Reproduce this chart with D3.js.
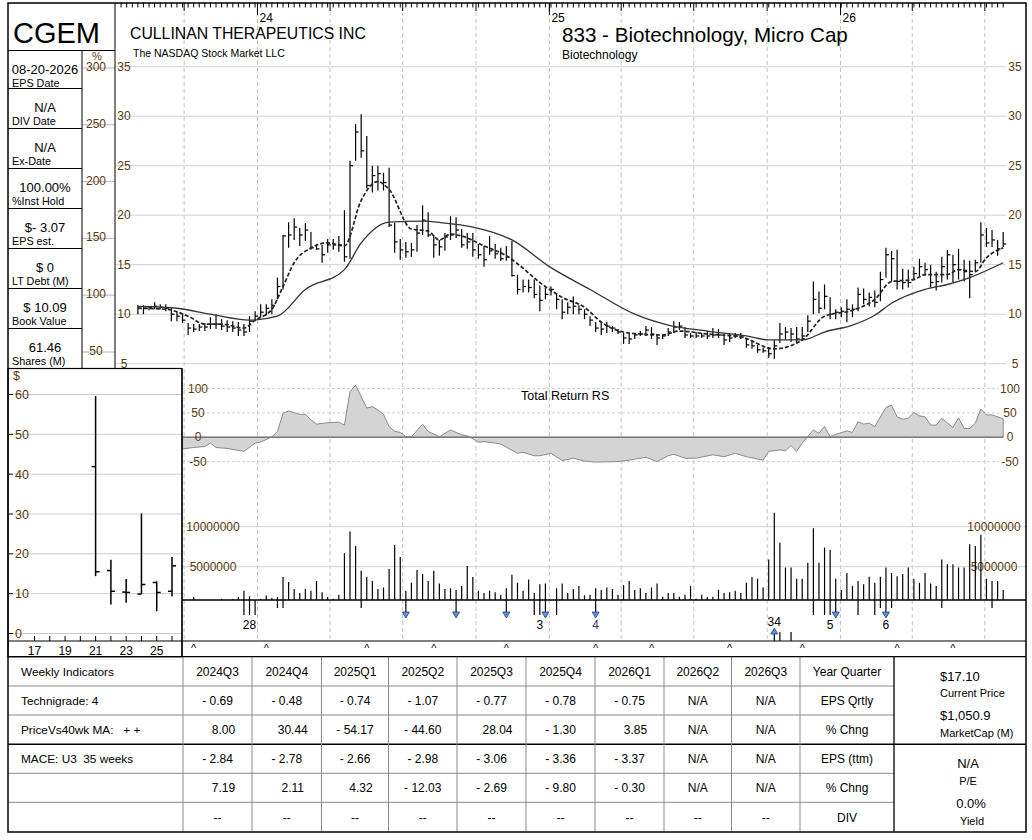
<!DOCTYPE html>
<html lang="en">
<head>
  <meta charset="UTF-8">
  <title>CGEM - Weekly Chart</title>
  <script src="https://d3js.org/d3.v7.min.js"></script>
  <style>
    body { margin: 0; background: #fff; }
    svg text { font-family: "Liberation Sans", Arial, sans-serif; }
  </style>
</head>
<body>
  <svg width="1032" height="840"></svg>
  <script>
    // ---- weekly price bars (first bar = week of 2023-08-04) ----
    const firstWeek = new Date(2023, 7, 4);
    const highs = [10.9,10.9,10.8,11.2,11.0,11.0,10.7,10.3,10.0,9.1, 9.0,9.0,9.1,9.7,10.0,9.5,9.4,9.3,9.2,9.0,
      9.8,10.3,11.0,11.0,11.5,13.7,18.0,19.3,19.7,18.7, 19.2,18.3,17.1,17.0,17.6,17.6,17.9,20.5,25.5,29.2,
      30.2,28.0,25.0,25.0,24.3,24.8,19.2,17.6,17.3,17.2, 19.0,21.0,20.3,18.0,17.5,18.2,19.9,19.8,
      18.6,18.2,18.2,17.1,16.9,17.9,17.1,16.7,16.9,17.4, 14.0,13.5,13.5,13.5,12.9,12.7,12.8,12.0,11.5,11.2,
      11.8,10.9,10.5,9.8,9.2,9.2,9.2,8.8,8.5,8.1, 8.0,8.1,8.3,8.8,8.7,8.0,8.0,8.6,9.3,9.2,
      8.7,8.1,8.2,8.1,8.3,8.6,8.5,8.0,8.0,8.1, 8.1,7.6,7.3,6.9,6.6,6.6,7.4,9.1,8.7,
      8.6,8.7,8.7,9.9,13.3,12.3,13.0,11.7,10.5,10.7, 11.5,11.0,12.7,12.6,12.2,12.4,14.3,16.7,16.4,16.5,
      14.6,14.5,14.8,15.6,15.2,15.0,14.3,15.8,16.5,16.0, 16.6,15.5,15.4,15.5,19.3,18.7,18.5,17.5,18.3];
    const lows = [10.0,10.0,10.4,10.5,10.5,10.3,9.3,9.3,9.1,7.9, 8.2,8.3,8.3,8.5,8.5,8.4,8.2,8.2,7.8,7.8,
      8.2,9.3,9.7,9.9,10.0,11.5,12.5,16.7,17.5,16.9, 17.4,16.5,16.5,15.2,16.2,16.5,16.3,15.3,15.6,25.5,
      25.8,22.7,22.3,22.5,22.5,18.8,16.2,15.5,15.7,15.8, 16.3,18.0,17.8,15.7,15.9,16.4,17.5,17.7,
      16.7,16.6,15.8,15.6,14.8,16.0,15.6,15.4,15.4,13.8, 12.0,12.2,12.2,11.6,10.3,11.5,11.9,10.5,9.5,10.0,
      10.0,10.0,9.5,8.8,8.2,7.9,8.1,8.2,8.0,7.0, 7.0,7.5,7.8,7.8,7.5,6.9,7.5,7.8,8.1,8.4,
      7.6,7.6,7.6,7.6,7.5,7.6,7.6,6.9,7.2,7.6, 7.5,6.6,6.5,6.1,6.1,5.6,5.5,7.1,7.4,
      7.2,7.1,7.4,8.2,10.0,10.1,10.5,9.5,9.5,9.7, 9.2,9.7,10.3,11.0,10.8,10.7,11.3,13.7,13.3,12.5,
      12.5,12.7,13.5,13.8,13.9,12.7,12.4,13.2,13.5,13.2, 13.5,13.3,11.6,14.3,15.2,16.8,16.8,15.9,16.8];
    const closes = [10.6,10.6,10.7,10.8,10.7,10.6,10.0,9.8,9.4,8.6, 8.5,8.7,8.7,9.0,9.0,8.8,8.7,8.6,8.4,8.2,
      9.3,9.8,10.2,10.6,10.9,12.8,17.9,18.0,18.8,18.0, 18.5,16.7,16.6,16.0,17.0,17.0,17.0,15.8,25.0,28.4,
      26.5,23.0,24.0,24.2,23.3,19.0,17.3,16.5,16.3,16.5, 18.2,19.5,18.0,17.0,16.8,17.8,18.0,18.5,
      17.0,17.3,16.5,16.0,15.5,16.4,16.1,15.6,15.8,13.9, 12.5,12.8,12.7,12.0,11.4,12.0,12.5,11.5,10.2,10.7,
      10.8,10.5,10.0,9.4,8.6,8.5,8.8,8.6,8.2,7.6, 7.5,7.9,8.0,8.4,8.0,7.6,7.8,8.2,8.7,8.8,
      7.9,7.8,7.8,7.8,7.8,7.9,7.9,7.4,7.6,7.8, 7.7,6.9,6.8,6.4,6.3,6.0,6.8,8.0,8.2,
      8.0,7.5,7.8,9.3,11.5,10.6,11.8,10.0,10.2,10.3, 10.5,10.5,12.0,11.5,11.7,11.2,13.5,16.0,15.6,13.3,
      13.2,13.2,14.1,14.8,14.5,13.2,13.3,14.8,16.0,15.0, 14.5,14.3,14.0,15.2,18.0,17.2,17.5,16.6,17.1];

    // moving averages: [week, price]
    const ma10 = [[0,10.6],[5,10.5],[9,9.8],[12,9.0],[15,9.0],[19,8.6],[21,9.4],[24,10.5],[26,12.8],[28,15.2],
      [31,16.7],[34,17.2],[37,16.9],[40,21.5],[43,23.4],[45,22.6],[49,18.6],[52,18.4],[54,17.5],[56,18.1],
      [58,17.9],[62,16.9],[66,15.9],[68,15.1],[72,13.2],[76,11.7],[80,10.7],[83,9.2],[88,8.1],[94,7.9],
      [97,8.3],[102,8.0],[108,7.7],[114,6.5],[119,7.4],[123,9.8],[128,10.4],[132,11.5],[135,13.3],[139,13.5],
      [141,14.0],[145,14.0],[147,14.5],[150,14.3],[152,15.7],[155,16.7]];
    const ma40 = [[0,10.8],[7,10.6],[13,10.0],[20,9.4],[25,9.8],[30,12.5],[37,14.5],[40,17.2],[45,19.3],[51,19.4],
      [55,19.2],[58,19.0],[60,18.8],[67,17.5],[74,14.7],[81,12.5],[89,10.0],[95,8.9],[102,8.3],[109,7.8],
      [113,7.4],[119,7.4],[123,8.2],[128,8.9],[132,9.9],[135,11.1],[141,12.5],[145,13.0],[149,13.7],[155,15.2]];

    // Total Return RS: [week, value]
    const rsPoints = [[8,-24],[10,-21],[12,-19],[13,-12],[14,-21],[16,-23],[19,-29],[21,-12],[22,-10],[24,1],
      [25,12],[26,49],[27,54],[29,47],[30,47],[31,36],[32,27],[34,30],[36,31],[37,25],[38,94],[39,107],[41,60],
      [42,63],[43,56],[44,47],[45,22],[46,12],[47,10],[48,1],[49,1],[51,27],[52,12],[54,1],[56,15],[58,5],[59,3],
      [60,-3],[61,-10],[62,-9],[64,-12],[65,-14],[68,-33],[69,-31],[71,-38],[72,-38],[74,-33],[76,-48],[78,-43],
      [80,-49],[82,-51],[86,-50],[88,-47],[91,-41],[93,-50],[95,-38],[96,-35],[98,-43],[100,-43],[103,-36],
      [105,-40],[107,-33],[109,-40],[112,-47],[113,-29],[115,-26],[116,-28],[117,-17],[118,-29],[119,-12],
      [121,15],[122,8],[123,22],[124,1],[125,6],[127,13],[128,10],[129,32],[130,27],[131,29],[132,22],[133,42],
      [134,61],[135,66],[136,42],[137,37],[138,39],[139,51],[140,44],[141,42],[142,25],[143,25],[144,39],
      [146,20],[147,40],[148,18],[149,18],[150,29],[151,58],[152,46],[153,46],[154,42],[155,38]];

    // weekly volume in millions, starting at week 10
    const volumeFirstWeek = 10;
    const volumes = [1.2,0.8,0.8,0.8,0.8,1.0,0.8,0.96,1.2,2.0, 1.3,0.8,0.96,1.4,1.1,1.2,3.7,3.1,2.2,1.7,
      2.2,2.0,3.2,1.8,1.2,1.0,1.5,6.7,9.4,7.6, 4.5,3.7,3.2,2.2,2.4,4.7,7.7,6.2,2.0,3.0,
      4.6,4.1,3.2,4.5,2.9,2.2,2.3,2.1,2.6,5.1, 3.7,2.0,1.7,2.0,1.8,1.5,2.3,4.0,3.0,2.0,
      3.4,1.7,2.8,2.9,0.8,2.3,2.9,1.7,2.2,2.6, 1.4,1.5,2.3,2.1,2.4,
      2.2,1.5,2.7,3.2,2.1,2.3,1.7,2.4,2.9, 1.25,1.7,1.7,1.25,1.5,2.6,1.0,1.5,1.2,1.25,
      2.1,1.7,1.8,2.0,1.7,3.0,3.7,3.5,2.4,5.9, 11.75,8.0,4.9,4.9,3.5,3.5,5.5,9.8,5.5,7.4,
      7.1,3.5,2.1,4.2,2.6,3.2,2.8,3.75,3.0,3.75, 4.9,4.2,3.8,4.1,4.9,3.5,3.0,4.2,2.9,2.6,
      5.9,5.3,5.3,4.9,4.9,7.8,7.6,9.0,3.5,3.2, 3.2,2.1];

    // markers below the volume baseline (week numbers)
    const dipLongWeeks = [19,20,21,71,72,75,121,123,124,129,132];
    const dipShortWeeks = [25,26,40,133,135,144,153];
    const downArrowWeeks = [48,57,66,73,82,125,134];
    const upArrowWeeks = [114];
    const riseWeeks = [115,117];
    const eventWeeks = [20,72,82,114,124,134];
    const eventTexts = ["28","3","4","34","5","6"];
    const caretWeeks = [10,23,41,53,66,82,92,106,119,136,146];

    // axis ticks
    const priceTicks = [5,10,15,20,25,30,35];
    const pctTicks = [50,100,150,200,250,300];
    const rsTicks = [-50,0,50,100];
    const volTicks = [5,10];

    // yearly inset
    const insetYears = [2021,2022,2023,2024,2025,2026];
    const insetOpen = [41.9,15.8,10.4,9.9,12.8,10.6];
    const insetHigh = [59.6,18.5,13.7,30.1,13.1,19.2];
    const insetLow = [14.4,7.3,7.7,9.9,5.6,9.3];
    const insetClose = [15.5,10.6,10.3,12.3,10.3,17.0];
    const insetTicks = [0,10,20,30,40,50,60];

    // stock facts
    const statValues = ["08-20-2026","N/A","N/A","100.00%","$- 3.07","$ 0","$ 10.09","61.46"];
    const statLabels = ["EPS Date","DIV Date","Ex-Date","%Inst Hold","EPS est.","LT Debt (M)","Book Value","Shares (M)"];

    // bottom table
    const quarterNames = ["2024Q3","2024Q4","2025Q1","2025Q2","2025Q3","2025Q4","2026Q1","2026Q2","2026Q3"];
    const epsQuarterly = [-0.69,-0.48,-0.74,-1.07,-0.77,-0.78,-0.75,null,null];
    const epsQuarterlyChg = [8.00,30.44,-54.17,-44.60,28.04,-1.30,3.85,null,null];
    const epsTtm = [-2.84,-2.78,-2.66,-2.98,-3.06,-3.36,-3.37,null,null];
    const epsTtmChg = [7.19,2.11,4.32,-12.03,-2.69,-9.80,-0.30,null,null];
    const dividends = [null,null,null,null,null,null,null,null,null];
    const indicatorNames = ["Weekly Indicators","Technigrade: 4","PriceVs40wk MA:   + +","MACE: U3  35 weeks","",""];
    const rowNames = ["Year Quarter","EPS Qrtly","% Chng","EPS (ttm)","% Chng","DIV"];

    // ---------------------------------------------------------------
    const svg = d3.select("svg");
    const axisColor = "#5a3b0b";

    const x = d3.scaleTime()
      .domain([new Date(2024, 0, 1), new Date(2026, 0, 1)])
      .range([257.5, 840.5]);
    const weekDate = i => d3.timeDay.offset(firstWeek, 7 * i);
    const wx = i => x(weekDate(i));

    const yPrice = d3.scaleLinear().domain([5, 35]).range([363.7, 66.7]);
    const yPct = d3.scaleLinear().domain([50, 300]).range([352, 68]);
    const yRS = d3.scaleLinear().domain([-50, 100]).range([461.6, 388.6]);
    const yVol = d3.scaleLinear().domain([0, 10]).range([606.7, 526.7]);
    const volBase = 600;

    svg.append("rect").attr("width", 1032).attr("height", 840).attr("fill", "#fff");

    // quarter gridlines
    const quarterStarts = d3.timeMonth.every(3).range(new Date(2023, 9, 1), new Date(2026, 7, 1));
    svg.append("g").selectAll("line").data(quarterStarts).join("line")
      .attr("x1", d => x(d)).attr("x2", d => x(d))
      .attr("y1", 12).attr("y2", 641)
      .attr("stroke", "#c4c4c4").attr("stroke-dasharray", "4,3");

    // top week ruler
    const ruler = svg.append("g").attr("stroke", "#000");
    ruler.selectAll(".wk").data(d3.range(-3, 156)).join("line")
      .attr("x1", d => wx(d)).attr("x2", d => wx(d)).attr("y1", 3).attr("y2", 7.5);
    ruler.selectAll(".qt").data(quarterStarts).join("line")
      .attr("x1", d => x(d)).attr("x2", d => x(d)).attr("y1", 3).attr("y2", 11);
    const yearStarts = d3.timeYear.range(new Date(2024, 0, 1), new Date(2026, 6, 1));
    ruler.selectAll(".yr").data(yearStarts).join("line")
      .attr("x1", d => x(d)).attr("x2", d => x(d)).attr("y1", 3).attr("y2", 15);
    svg.append("g").selectAll("text").data(yearStarts).join("text")
      .attr("x", d => x(d) + 2).attr("y", 22).attr("font-size", 12)
      .text(d => d3.timeFormat("%y")(d));

    // price grid + labels
    const gPrice = svg.append("g");
    gPrice.selectAll("line").data(priceTicks).join("line")
      .attr("x1", 115).attr("x2", 1006)
      .attr("y1", d => yPrice(d)).attr("y2", d => yPrice(d))
      .attr("stroke", "#d2d2d2");
    gPrice.selectAll(".pl").data(priceTicks).join("text")
      .attr("x", 124).attr("y", d => yPrice(d) + 4).attr("text-anchor", "middle")
      .attr("font-size", 12).attr("fill", axisColor).text(d => d);
    gPrice.selectAll(".pr").data(priceTicks).join("text")
      .attr("x", 1015).attr("y", d => yPrice(d) + 4).attr("text-anchor", "middle")
      .attr("font-size", 12).attr("fill", axisColor).text(d => d);

    // percent column
    const gPct = svg.append("g");
    gPct.selectAll("line").data(pctTicks).join("line")
      .attr("x1", 82).attr("x2", 115)
      .attr("y1", d => yPct(d)).attr("y2", d => yPct(d))
      .attr("stroke", "#b8b8b8");
    gPct.selectAll("text").data(pctTicks).join("text")
      .attr("x", 96).attr("y", d => yPct(d) + 3).attr("text-anchor", "middle")
      .attr("font-size", 12).attr("fill", axisColor).text(d => d);
    svg.append("text").attr("x", 97).attr("y", 60).attr("text-anchor", "middle")
      .attr("font-size", 11).attr("fill", axisColor).text("%");

    // titles
    svg.append("text").attr("x", 130).attr("y", 39).attr("font-size", 15.8).text("CULLINAN THERAPEUTICS INC");
    svg.append("text").attr("x", 133).attr("y", 57).attr("font-size", 10.5).text("The NASDAQ Stock Market LLC");
    svg.append("text").attr("x", 562).attr("y", 42).attr("font-size", 20.6).text("833 - Biotechnology, Micro Cap");
    svg.append("text").attr("x", 562).attr("y", 59).attr("font-size", 12).text("Biotechnology");

    // price bars
    const bars = svg.append("g").attr("stroke", "#000").attr("stroke-width", 1.2);
    bars.selectAll(".hl").data(highs).join("line")
      .attr("x1", (d, i) => wx(i)).attr("x2", (d, i) => wx(i))
      .attr("y1", d => yPrice(d)).attr("y2", (d, i) => yPrice(lows[i]));
    bars.selectAll(".cl").data(closes).join("line")
      .attr("x1", (d, i) => wx(i)).attr("x2", (d, i) => wx(i) + 3)
      .attr("y1", d => yPrice(d)).attr("y2", d => yPrice(d));

    // moving averages
    const maLine = d3.line().x(d => wx(d[0])).y(d => yPrice(d[1])).curve(d3.curveMonotoneX);
    svg.append("path").attr("d", maLine(ma40)).attr("fill", "none")
      .attr("stroke", "#333").attr("stroke-width", 1.3);
    svg.append("path").attr("d", maLine(ma10)).attr("fill", "none")
      .attr("stroke", "#222").attr("stroke-width", 1.7).attr("stroke-dasharray", "4,2");

    // RS panel
    const gRS = svg.append("g");
    gRS.selectAll("line").data(rsTicks.filter(d => d !== 0)).join("line")
      .attr("x1", 182).attr("x2", 999)
      .attr("y1", d => yRS(d)).attr("y2", d => yRS(d))
      .attr("stroke", "#cfcfcf").attr("stroke-dasharray", "3,2");
    const rsArea = d3.area().x(d => wx(d[0])).y0(yRS(0)).y1(d => yRS(d[1]));
    gRS.append("path").attr("d", rsArea(rsPoints))
      .attr("fill", "#d4d4d4").attr("stroke", "#8a8a8a").attr("stroke-width", 1);
    gRS.append("line").attr("x1", 182).attr("x2", wx(155))
      .attr("y1", yRS(0)).attr("y2", yRS(0)).attr("stroke", "#7a7a7a").attr("stroke-width", 1.5);
    gRS.selectAll(".rl").data(rsTicks).join("text")
      .attr("x", 198).attr("y", d => yRS(d) + 4).attr("text-anchor", "middle")
      .attr("font-size", 12).attr("fill", axisColor).text(d => d);
    gRS.selectAll(".rr").data(rsTicks).join("text")
      .attr("x", 1010).attr("y", d => yRS(d) + 4).attr("text-anchor", "middle")
      .attr("font-size", 12).attr("fill", axisColor).text(d => d);
    gRS.append("text").attr("x", 521).attr("y", 400).attr("font-size", 12.5).text("Total Return RS");

    // volume panel
    const gVol = svg.append("g");
    gVol.selectAll("line").data(volTicks).join("line")
      .attr("x1", 182).attr("x2", 1026)
      .attr("y1", d => yVol(d)).attr("y2", d => yVol(d))
      .attr("stroke", "#d2d2d2");
    gVol.selectAll(".vl").data(volTicks).join("text")
      .attr("x", 213).attr("y", d => yVol(d) + 4).attr("text-anchor", "middle")
      .attr("font-size", 12).attr("fill", axisColor).text(d => d * 1000000);
    gVol.selectAll(".vr").data(volTicks).join("text")
      .attr("x", 994).attr("y", d => yVol(d) + 4).attr("text-anchor", "middle")
      .attr("font-size", 12).attr("fill", axisColor).text(d => d * 1000000);
    gVol.append("g").attr("stroke", "#000").attr("stroke-width", 1.2)
      .selectAll("line").data(volumes.map((v, k) => [volumeFirstWeek + k, v]).filter(d => yVol(d[1]) < volBase))
      .join("line")
      .attr("x1", d => wx(d[0])).attr("x2", d => wx(d[0]))
      .attr("y1", volBase).attr("y2", d => yVol(d[1]));

    // markers under the baseline
    const gMk = svg.append("g").attr("stroke", "#000").attr("stroke-width", 1.2);
    gMk.selectAll(".dl").data(dipLongWeeks).join("line")
      .attr("x1", d => wx(d)).attr("x2", d => wx(d)).attr("y1", volBase).attr("y2", 615);
    gMk.selectAll(".ds").data(dipShortWeeks).join("line")
      .attr("x1", d => wx(d)).attr("x2", d => wx(d)).attr("y1", volBase).attr("y2", 608);
    gMk.selectAll(".da").data(downArrowWeeks).join("line")
      .attr("x1", d => wx(d)).attr("x2", d => wx(d)).attr("y1", volBase).attr("y2", 613);
    gMk.selectAll(".rs").data(riseWeeks).join("line")
      .attr("x1", d => wx(d)).attr("x2", d => wx(d)).attr("y1", 641).attr("y2", 632);
    gMk.selectAll(".ua").data(upArrowWeeks).join("line")
      .attr("x1", d => wx(d)).attr("x2", d => wx(d)).attr("y1", 641).attr("y2", 633);
    svg.append("g").selectAll("path").data(downArrowWeeks).join("path")
      .attr("d", d => `M${wx(d) - 3.5},${612} L${wx(d) + 3.5},${612} L${wx(d)},${618} Z`)
      .attr("fill", "#5f8fd6").attr("stroke", "#1f3f7a").attr("stroke-width", 0.8);
    svg.append("g").selectAll("path").data(upArrowWeeks).join("path")
      .attr("d", d => `M${wx(d) - 3.5},${634} L${wx(d) + 3.5},${634} L${wx(d)},${628} Z`)
      .attr("fill", "#5f8fd6").attr("stroke", "#1f3f7a").attr("stroke-width", 0.8);
    svg.append("g").selectAll("text").data(eventWeeks).join("text")
      .attr("x", d => wx(d)).attr("y", (d, i) => eventTexts[i] === "34" ? 626 : 628.5)
      .attr("text-anchor", "middle").attr("font-size", 12)
      .attr("fill", (d, i) => eventTexts[i] === "4" ? "#4b2a7b" : "#000")
      .text((d, i) => eventTexts[i]);

    // volume baseline and bottom rule
    svg.append("line").attr("x1", 182).attr("x2", 1026).attr("y1", volBase).attr("y2", volBase)
      .attr("stroke", "#000").attr("stroke-width", 1.5);
    svg.append("line").attr("x1", 182).attr("x2", 1026).attr("y1", 641).attr("y2", 641)
      .attr("stroke", "#000").attr("stroke-width", 1.2);
    svg.append("g").selectAll("text").data(caretWeeks).join("text")
      .attr("x", d => wx(d)).attr("y", 652).attr("text-anchor", "middle")
      .attr("font-size", 11).text("^");

    // ---- yearly inset ----
    const xIn = d3.scaleLinear().domain([2017, 2026]).range([34.5, 172]);
    const yIn = d3.scaleLinear().domain([0, 60]).range([633.5, 394.5]);
    const gIn = svg.append("g");
    gIn.append("rect").attr("x", 8).attr("y", 368.5).attr("width", 174).attr("height", 288.2)
      .attr("fill", "#fff");
    gIn.selectAll(".gl").data(insetTicks).join("line")
      .attr("x1", 13).attr("x2", 182).attr("y1", d => yIn(d)).attr("y2", d => yIn(d))
      .attr("stroke", "#cdcdcd");
    gIn.selectAll(".tk").data(insetTicks).join("line")
      .attr("x1", 9).attr("x2", 13).attr("y1", d => yIn(d)).attr("y2", d => yIn(d))
      .attr("stroke", "#000");
    gIn.selectAll(".lb").data(insetTicks).join("text")
      .attr("x", 15).attr("y", d => yIn(d) + 4.5).attr("font-size", 12.5)
      .attr("fill", axisColor).text(d => d);
    gIn.append("text").attr("x", 13).attr("y", 380).attr("font-size", 12.5).attr("fill", axisColor).text("$");
    gIn.append("line").attr("x1", 8).attr("x2", 182).attr("y1", 641).attr("y2", 641).attr("stroke", "#000");
    gIn.selectAll(".xt").data(d3.range(2017, 2027)).join("line")
      .attr("x1", d => xIn(d)).attr("x2", d => xIn(d)).attr("y1", 641).attr("y2", 636)
      .attr("stroke", "#000");
    gIn.selectAll(".xl").data([2017, 2019, 2021, 2023, 2025]).join("text")
      .attr("x", d => xIn(d)).attr("y", 654.5).attr("text-anchor", "middle")
      .attr("font-size", 12).text(d => String(d).slice(2));
    const gInBars = gIn.append("g").attr("stroke", "#000").attr("stroke-width", 1.5);
    gInBars.selectAll(".v").data(insetYears).join("line")
      .attr("x1", d => xIn(d)).attr("x2", d => xIn(d))
      .attr("y1", (d, i) => yIn(insetHigh[i])).attr("y2", (d, i) => yIn(insetLow[i]));
    gInBars.selectAll(".o").data(insetYears).join("line")
      .attr("x1", d => xIn(d) - 4).attr("x2", d => xIn(d))
      .attr("y1", (d, i) => yIn(insetOpen[i])).attr("y2", (d, i) => yIn(insetOpen[i]));
    gInBars.selectAll(".c").data(insetYears).join("line")
      .attr("x1", d => xIn(d)).attr("x2", d => xIn(d) + 4)
      .attr("y1", (d, i) => yIn(insetClose[i])).attr("y2", (d, i) => yIn(insetClose[i]));
    gIn.append("rect").attr("x", 8).attr("y", 368.5).attr("width", 174).attr("height", 288.2)
      .attr("fill", "none").attr("stroke", "#000").attr("stroke-width", 1.2);

    // ---- facts panel ----
    const boxTops = [50.5, 88.5, 128.5, 168.5, 208.5, 248.5, 288.5, 328.5, 368.5];
    const gSt = svg.append("g");
    gSt.append("text").attr("x", 13).attr("y", 43).attr("font-size", 29).text("CGEM");
    gSt.append("line").attr("x1", 8).attr("x2", 115).attr("y1", 50.5).attr("y2", 50.5).attr("stroke", "#000");
    gSt.append("line").attr("x1", 82).attr("x2", 82).attr("y1", 50.5).attr("y2", 368.5).attr("stroke", "#000");
    gSt.append("line").attr("x1", 115).attr("x2", 115).attr("y1", 3).attr("y2", 368.5).attr("stroke", "#000");
    gSt.selectAll(".sep").data(boxTops.slice(1, 8)).join("line")
      .attr("x1", 8).attr("x2", 82).attr("y1", d => d).attr("y2", d => d).attr("stroke", "#000");
    gSt.selectAll(".val").data(statValues).join("text")
      .attr("x", 45).attr("y", (d, i) => boxTops[i] + 23.5).attr("text-anchor", "middle")
      .attr("font-size", 13).style("white-space", "pre").text(d => d);
    gSt.selectAll(".lab").data(statLabels).join("text")
      .attr("x", 12).attr("y", (d, i) => boxTops[i] + 36)
      .attr("font-size", 10.8).text(d => d);

    // ---- table ----
    const colX = [8, 183, 252, 321.5, 388.5, 457, 526, 595, 664, 731.5, 800, 894, 1026];
    const rowY = [656.7, 686, 715, 744.3, 773.3, 802.3, 831.7];
    const gT = svg.append("g");
    gT.selectAll(".hr").data(rowY.slice(1, 6)).join("line")
      .attr("x1", 8).attr("x2", 894).attr("y1", d => d).attr("y2", d => d)
      .attr("stroke", d => d === 744.3 ? "#000" : "#8a8a8a").attr("stroke-width", d => d === 744.3 ? 1.5 : 1);
    gT.append("line").attr("x1", 894).attr("x2", 1026).attr("y1", 744.3).attr("y2", 744.3)
      .attr("stroke", "#000").attr("stroke-width", 1.5);
    gT.selectAll(".vr").data(colX.slice(1, 11)).join("line")
      .attr("x1", d => d).attr("x2", d => d).attr("y1", 656.7).attr("y2", 831.7).attr("stroke", "#8a8a8a");
    gT.append("line").attr("x1", 894).attr("x2", 894).attr("y1", 656.7).attr("y2", 831.7)
      .attr("stroke", "#000").attr("stroke-width", 1.3);

    const fmt = v => v == null ? "N/A" : (v < 0 ? "- " + Math.abs(v).toFixed(2) : v.toFixed(2));
    const rows = [quarterNames, epsQuarterly.map(fmt), epsQuarterlyChg.map(fmt),
      epsTtm.map(fmt), epsTtmChg.map(fmt), dividends.map(() => "--")];
    const rawRows = [quarterNames, epsQuarterly, epsQuarterlyChg, epsTtm, epsTtmChg, dividends];
    rows.forEach((cells, r) => {
      const base = (rowY[r] + rowY[r + 1]) / 2 + 4.5;
      gT.append("text").attr("x", 21).attr("y", base).attr("font-size", 11.8)
        .style("white-space", "pre").text(indicatorNames[r]);
      cells.forEach((s, c) => {
        const raw = rawRows[r][c];
        const shift = (r > 0 && typeof raw === "number" && raw > 0) ? 6 : 0;
        gT.append("text").attr("x", (colX[c + 1] + colX[c + 2]) / 2 + shift).attr("y", base)
          .attr("text-anchor", "middle").attr("font-size", 12).style("white-space", "pre").text(s);
      });
      gT.append("text").attr("x", (colX[10] + colX[11]) / 2).attr("y", base)
        .attr("text-anchor", "middle").attr("font-size", 12).text(rowNames[r]);
    });

    gT.append("text").attr("x", 940).attr("y", 680.5).attr("font-size", 13).text("$17.10");
    gT.append("text").attr("x", 940).attr("y", 697).attr("font-size", 11).text("Current Price");
    gT.append("text").attr("x", 940).attr("y", 720).attr("font-size", 13).text("$1,050.9");
    gT.append("text").attr("x", 940).attr("y", 736.5).attr("font-size", 11).text("MarketCap (M)");
    gT.append("text").attr("x", 968).attr("y", 767.5).attr("text-anchor", "middle").attr("font-size", 13).text("N/A");
    gT.append("text").attr("x", 968).attr("y", 785).attr("text-anchor", "middle").attr("font-size", 11).text("P/E");
    gT.append("text").attr("x", 971).attr("y", 808).attr("text-anchor", "middle").attr("font-size", 13).text("0.0%");
    gT.append("text").attr("x", 972).attr("y", 825).attr("text-anchor", "middle").attr("font-size", 11).text("Yield");

    // outer frame
    svg.append("line").attr("x1", 8).attr("x2", 1026).attr("y1", 656.7).attr("y2", 656.7)
      .attr("stroke", "#000").attr("stroke-width", 1.3);
    svg.append("line").attr("x1", 182).attr("x2", 182).attr("y1", 368.5).attr("y2", 656.7)
      .attr("stroke", "#000").attr("stroke-width", 1.2);
    svg.append("rect").attr("x", 8).attr("y", 3).attr("width", 1018).attr("height", 829)
      .attr("fill", "none").attr("stroke", "#000").attr("stroke-width", 1.5);
  </script>
</body>
</html>
